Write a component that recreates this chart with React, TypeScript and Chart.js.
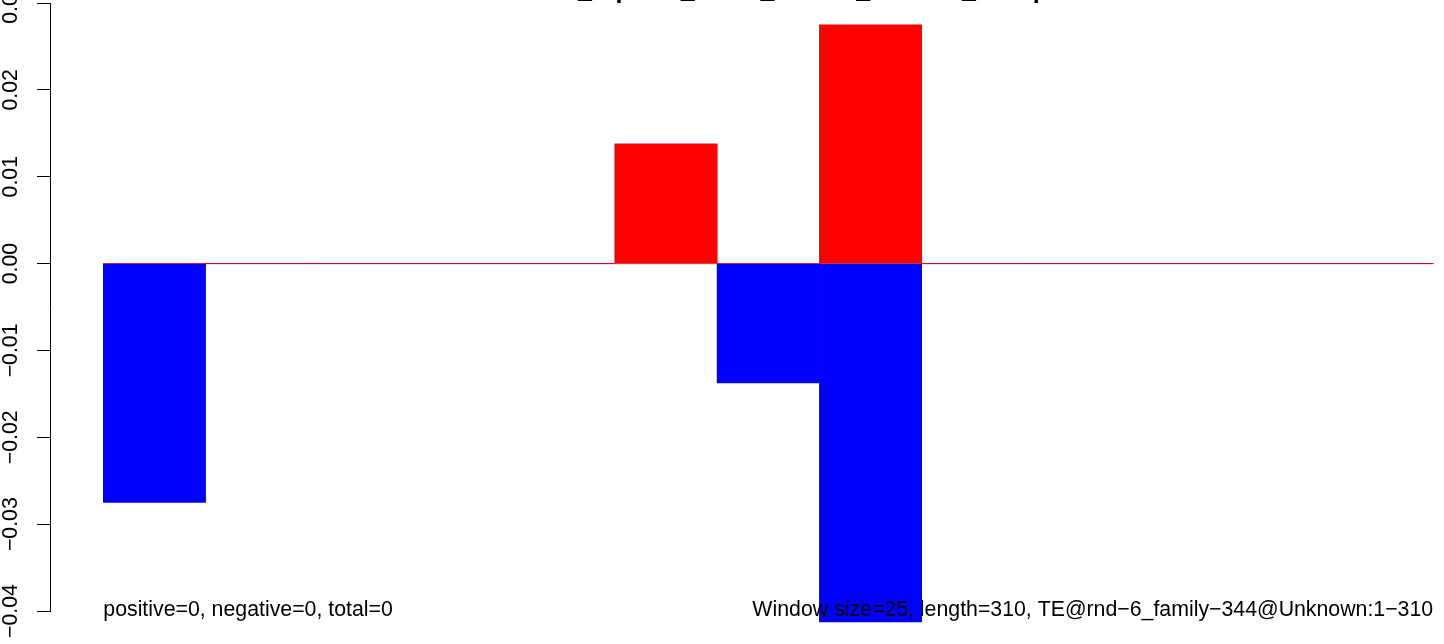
import React, { useEffect, useRef } from 'react';
import { Chart, registerables } from 'chart.js';

Chart.register(...registerables);

// ---- data ----
const windows = ['1', '2', '3', '4', '5', '6', '7', '8', '9', '10', '11', '12', '13'];
const positiveValues = [0, 0, 0, 0, 0, 0.01375, 0, 0.0275, 0, 0, 0, 0, 0];
const negativeValues = [-0.0275, 0, 0, 0, 0, 0, -0.01375, -0.04125, 0, 0, 0, 0, 0];
const yTickValues = [-0.04, -0.03, -0.02, -0.01, 0, 0.01, 0.02, 0.03];
const titlePrefix = 'rnd6';
const titleText = 'rnd6_replicat_ATAC_counts_normed_clamp';
const leftNote = 'positive=0, negative=0, total=0';
const rightNote = 'Window size=25, length=310, TE@rnd\u22126_family\u2212344@Unknown:1\u2212310';

const FONT_FAMILY = '"Liberation Sans", Arial, Helvetica, sans-serif';
const FONT_PX = 21.3;

function fmtTick(v: number): string {
  const s = Math.abs(v) < 1e-9 ? '0.00' : v.toFixed(2);
  return s.replace('-', '\u2212');
}

export default function App() {
  const ref = useRef<HTMLCanvasElement>(null);

  useEffect(() => {
    const canvas = ref.current;
    if (!canvas) return;

    const rPlugin = {
      id: 'rStyle',
      beforeDatasetsDraw(chart: any) {
        const { ctx } = chart;
        const x = chart.scales.x;
        const y = chart.scales.y;
        ctx.save();
        ctx.strokeStyle = '#9a9a9a';
        ctx.lineWidth = 1.2;
        const y0 = y.getPixelForValue(0);
        ctx.beginPath();
        ctx.moveTo(x.getPixelForValue(-0.5), y0);
        ctx.lineTo(x.getPixelForValue(windows.length - 0.5), y0);
        ctx.stroke();
        ctx.restore();
      },
      afterDatasetsDraw(chart: any) {
        const { ctx } = chart;
        const x = chart.scales.x;
        const y = chart.scales.y;
        ctx.save();
        ctx.fillStyle = '#000';
        ctx.font = `${FONT_PX}px ${FONT_FAMILY}`;
        ctx.textBaseline = 'alphabetic';
        const by = y.getPixelForValue(yTickValues[0]) + 5;
        ctx.textAlign = 'left';
        ctx.fillText(leftNote, x.getPixelForValue(-0.5), by);
        ctx.textAlign = 'right';
        ctx.fillText(rightNote, x.getPixelForValue(windows.length - 0.5), by);
        ctx.restore();
      },
      afterDraw(chart: any) {
        const { ctx } = chart;
        const y = chart.scales.y;
        ctx.save();
        ctx.fillStyle = '#000';
        ctx.font = `${FONT_PX}px ${FONT_FAMILY}`;
        ctx.textAlign = 'center';
        ctx.textBaseline = 'alphabetic';
        const lx = chart.chartArea.left - 32.7;
        for (const t of y.ticks) {
          const py = y.getPixelForValue(t.value);
          ctx.save();
          ctx.translate(lx, py);
          ctx.rotate(-Math.PI / 2);
          ctx.fillText(fmtTick(t.value), 0, 0);
          ctx.restore();
        }
        // title (mostly above the visible area)
        ctx.font = `bold 25px ${FONT_FAMILY}`;
        ctx.textAlign = 'left';
        const pw = ctx.measureText(titlePrefix).width;
        ctx.fillText(titleText, 578 - pw, -2);
        ctx.restore();
      },
    };

    const chart = new Chart(canvas, {
      type: 'bar',
      data: {
        datasets: [
          {
            label: 'positive',
            data: positiveValues.map((v, i) => ({ x: i, y: v })),
            backgroundColor: '#FF0000',
            borderWidth: 0,
            clip: false as any,
          },
          {
            label: 'negative',
            data: negativeValues.map((v, i) => ({ x: i, y: v })),
            backgroundColor: '#0000FF',
            borderWidth: 0,
            clip: false as any,
          },
        ],
      },
      options: {
        responsive: false,
        maintainAspectRatio: false,
        animation: false,
        devicePixelRatio: 1,
        layout: { padding: { top: 3, bottom: 33, left: 0, right: 0 } },
        datasets: { bar: { barPercentage: 1, categoryPercentage: 1 } },
        plugins: {
          legend: { display: false },
          title: { display: false },
          tooltip: { enabled: false },
        },
        scales: {
          x: {
            type: 'linear',
            display: false,
            stacked: true,
            offset: false,
            min: -1.021,
            max: 12.606,
            afterBuildTicks: (s: any) => {
              s.ticks = windows.map((_, i) => ({ value: i }));
            },
          },
          y: {
            type: 'linear',
            position: 'left',
            stacked: true,
            min: -0.04,
            max: 0.03,
            afterBuildTicks: (s: any) => {
              s.ticks = yTickValues.map((v) => ({ value: v }));
            },
            afterFit: (s: any) => {
              s.width = 50;
            },
            ticks: { display: false },
            grid: {
              display: true,
              drawOnChartArea: false,
              drawTicks: true,
              tickLength: 13,
              color: '#000',
              lineWidth: 1,
            },
            border: { display: true, color: '#000', width: 1 },
          },
        },
      } as any,
      plugins: [rPlugin],
    });

    return () => chart.destroy();
  }, []);

  return (
    <div style={{ position: 'absolute', left: 0, top: 0, width: 1444, height: 644, background: '#fff' }}>
      <canvas ref={ref} width={1444} height={644} style={{ display: 'block', width: 1444, height: 644 }} />
    </div>
  );
}
